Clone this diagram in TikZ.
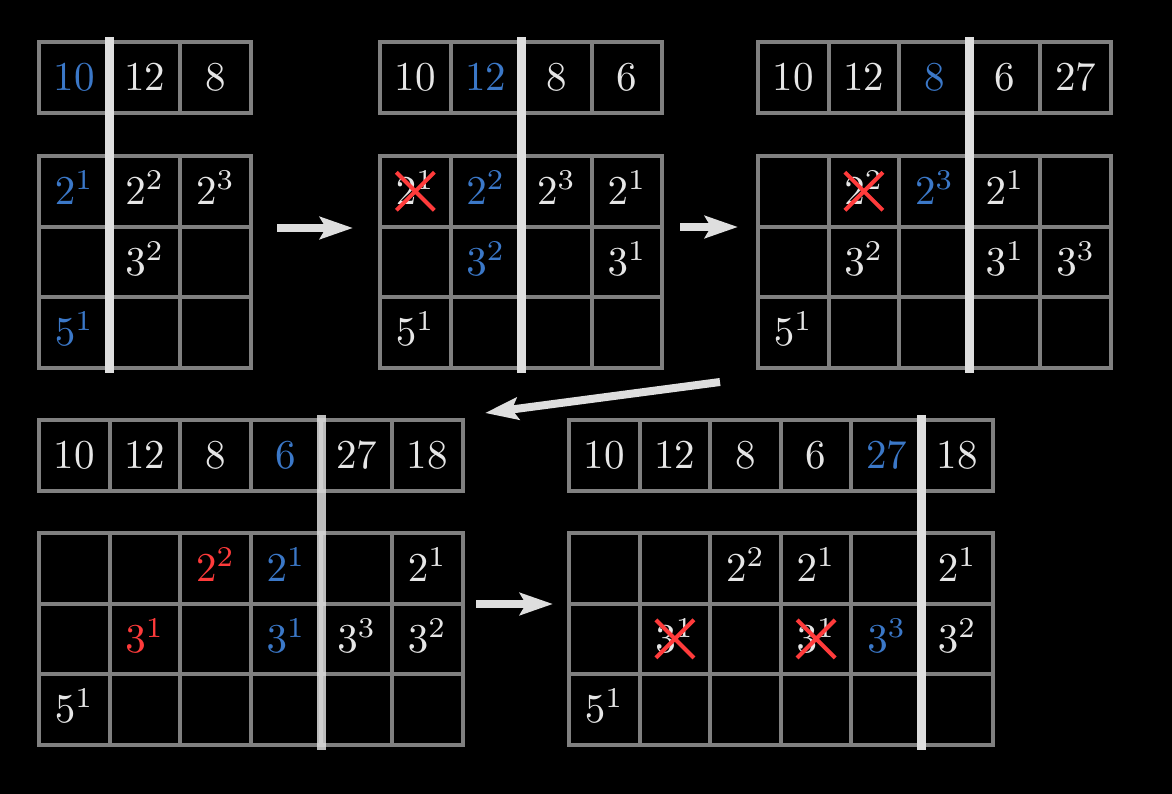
\documentclass[tikz,border=0pt]{standalone}
\usetikzlibrary{arrows.meta}
\definecolor{fg}{HTML}{E6E6E6}
\definecolor{gl}{HTML}{808080}
\definecolor{barc}{HTML}{DEDEDE}
\definecolor{bl}{HTML}{3B78C8}
\definecolor{rd}{HTML}{FF3B3B}
\def\cellw{70.6}
\newcommand\T[1]{\scalebox{4.1}{\fontsize{10}{12}\selectfont #1}}
\newcommand\pw[2]{\T{$#1^{#2}$}}
\newcommand\gridpanel[4]{%
  \foreach \i in {1,...,#3}{%
    \draw[gridline] ({#1+(\i-1)*\cellw},#2) rectangle ++(\cellw,\cellw);
    \foreach \j in {1,2,3}
      \draw[gridline] ({#1+(\i-1)*\cellw},{#4+(\j-1)*\cellw}) rectangle ++(\cellw,\cellw);
  }}
\tikzset{
  gridline/.style={draw=gl, line width=4pt},
  txt/.style={text=fg, inner sep=0pt,
    text height=26.4pt, text depth=0pt, anchor=center},
  hl/.style={text=bl},
  rdt/.style={text=rd},
  bar/.style={draw=barc, line width=9pt},
  arr/.style={draw=barc, line width=8pt, -{Stealth[length=33pt,width=22pt,inset=6pt]}},
  xmark/.style={draw=rd, line width=4pt},
}
\begin{document}
\begin{tikzpicture}[x=1pt,y=-1pt]
\fill[black] (0,0) rectangle (1172,794);
\useasboundingbox (0,0) rectangle (1172,794);
% grids
\gridpanel{39}{42}{3}{156}
\gridpanel{380}{42}{4}{156}
\gridpanel{758}{42}{5}{156}
\gridpanel{39}{420}{6}{533}
\gridpanel{569}{420}{6}{533}
% ---- panel a
\node[txt,hl] (a-t1) at (74.3,77.3) {\T{10}};
\node[txt] (a-t2) at (144.9,77.3) {\T{12}};
\node[txt] (a-t3) at (215.5,77.3) {\T{8}};
\node[txt,hl] (a-11) at (74.3,191.3) {\pw21};
\node[txt] (a-12) at (144.9,191.3) {\pw22};
\node[txt] (a-13) at (215.5,191.3) {\pw23};
\node[txt] (a-22) at (144.9,261.9) {\pw32};
\node[txt,hl] (a-31) at (74.3,332.5) {\pw51};
% ---- panel b
\node[txt] (b-t1) at (415.3,77.3) {\T{10}};
\node[txt,hl] (b-t2) at (485.9,77.3) {\T{12}};
\node[txt] (b-t3) at (556.5,77.3) {\T{8}};
\node[txt] (b-t4) at (627.1,77.3) {\T{6}};
\node[txt] (b-11) at (415.3,191.3) {\pw21};
\node[txt,hl] (b-12) at (485.9,191.3) {\pw22};
\node[txt] (b-13) at (556.5,191.3) {\pw23};
\node[txt] (b-14) at (627.1,191.3) {\pw21};
\node[txt,hl] (b-22) at (485.9,261.9) {\pw32};
\node[txt] (b-24) at (627.1,261.9) {\pw31};
\node[txt] (b-31) at (415.3,332.5) {\pw51};
% ---- panel c
\node[txt] (c-t1) at (793.3,77.3) {\T{10}};
\node[txt] (c-t2) at (863.9,77.3) {\T{12}};
\node[txt,hl] (c-t3) at (934.5,77.3) {\T{8}};
\node[txt] (c-t4) at (1005.1,77.3) {\T{6}};
\node[txt] (c-t5) at (1075.7,77.3) {\T{27}};
\node[txt] (c-12) at (863.9,191.3) {\pw22};
\node[txt,hl] (c-13) at (934.5,191.3) {\pw23};
\node[txt] (c-14) at (1005.1,191.3) {\pw21};
\node[txt] (c-22) at (863.9,261.9) {\pw32};
\node[txt] (c-24) at (1005.1,261.9) {\pw31};
\node[txt] (c-25) at (1075.7,261.9) {\pw33};
\node[txt] (c-31) at (793.3,332.5) {\pw51};
% ---- panel d
\node[txt] (d-t1) at (74.3,455.3) {\T{10}};
\node[txt] (d-t2) at (144.9,455.3) {\T{12}};
\node[txt] (d-t3) at (215.5,455.3) {\T{8}};
\node[txt,hl] (d-t4) at (286.1,455.3) {\T{6}};
\node[txt] (d-t5) at (356.7,455.3) {\T{27}};
\node[txt] (d-t6) at (427.3,455.3) {\T{18}};
\node[txt,rdt] (d-13) at (215.5,568.3) {\pw22};
\node[txt,hl] (d-14) at (286.1,568.3) {\pw21};
\node[txt] (d-16) at (427.3,568.3) {\pw21};
\node[txt,rdt] (d-22) at (144.9,638.9) {\pw31};
\node[txt,hl] (d-24) at (286.1,638.9) {\pw31};
\node[txt] (d-25) at (356.7,638.9) {\pw33};
\node[txt] (d-26) at (427.3,638.9) {\pw32};
\node[txt] (d-31) at (74.3,709.5) {\pw51};
% ---- panel e
\node[txt] (e-t1) at (604.3,455.3) {\T{10}};
\node[txt] (e-t2) at (674.9,455.3) {\T{12}};
\node[txt] (e-t3) at (745.5,455.3) {\T{8}};
\node[txt] (e-t4) at (816.1,455.3) {\T{6}};
\node[txt,hl] (e-t5) at (886.7,455.3) {\T{27}};
\node[txt] (e-t6) at (957.3,455.3) {\T{18}};
\node[txt] (e-13) at (745.5,568.3) {\pw22};
\node[txt] (e-14) at (816.1,568.3) {\pw21};
\node[txt] (e-16) at (957.3,568.3) {\pw21};
\node[txt] (e-22) at (674.9,638.9) {\pw31};
\node[txt] (e-24) at (816.1,638.9) {\pw31};
\node[txt,hl] (e-25) at (886.7,638.9) {\pw33};
\node[txt] (e-26) at (957.3,638.9) {\pw32};
\node[txt] (e-31) at (604.3,709.5) {\pw51};
% ---- bars
\coordinate (a-bt) at (109.6,37); \coordinate (a-bb) at (109.6,372.5);
\coordinate (b-bt) at (521.2,37); \coordinate (b-bb) at (521.2,372.5);
\coordinate (c-bt) at (969.5,37); \coordinate (c-bb) at (969.5,372.5);
\coordinate (d-bt) at (321.4,415); \coordinate (d-bb) at (321.4,750);
\coordinate (e-bt) at (921,415); \coordinate (e-bb) at (921,750);
\draw[bar] (a-bt) -- (a-bb);
\draw[bar] (b-bt) -- (b-bb);
\draw[bar] (c-bt) -- (c-bb);
\draw[bar, draw opacity=0.85] (d-bt) -- (d-bb);
\draw[bar] (e-bt) -- (e-bb);
% ---- crosses
\foreach \n in {b-11,c-12,e-22,e-24}
  \draw[xmark] ([shift={(-19,-19)}]\n.center) -- ([shift={(19,19)}]\n.center)
               ([shift={(-19,19)}]\n.center) -- ([shift={(19,-19)}]\n.center);
% ---- arrows
\coordinate (ar1s) at (277,228); \coordinate (ar1e) at (353,228);
\coordinate (ar2s) at (680,227); \coordinate (ar2e) at (738,227);
\coordinate (ar3s) at (720,382); \coordinate (ar3e) at (485,413);
\coordinate (ar4s) at (476,604); \coordinate (ar4e) at (553,604);
\draw[arr] (ar1s) -- (ar1e);
\draw[arr] (ar2s) -- (ar2e);
\draw[arr] (ar3s) -- (ar3e);
\draw[arr] (ar4s) -- (ar4e);
\end{tikzpicture}
\end{document}
